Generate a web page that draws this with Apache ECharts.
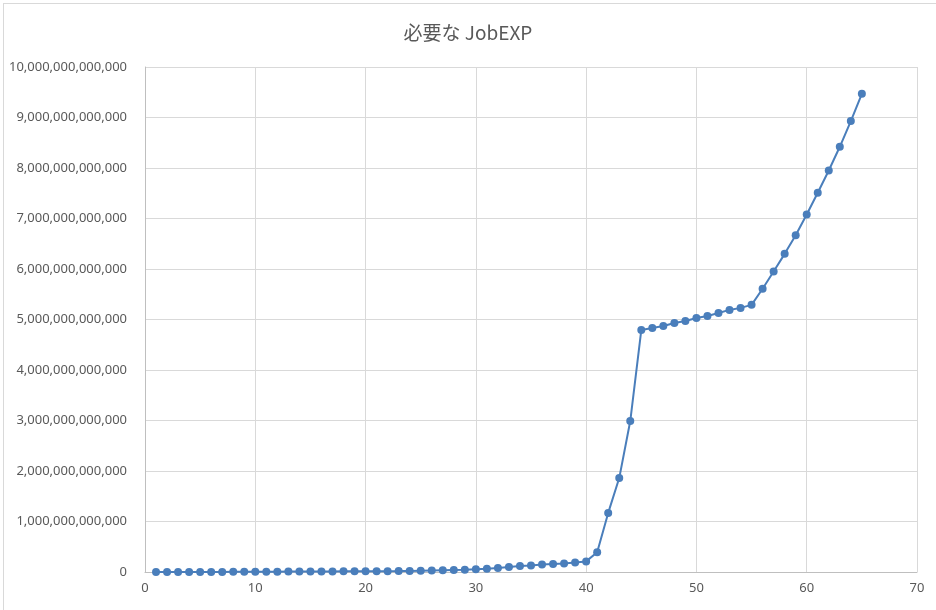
<!DOCTYPE html>
<html><head><meta charset="utf-8">
<script src="https://cdn.jsdelivr.net/npm/echarts@6/dist/echarts.min.js"></script>
<style>
html,body{margin:0;padding:0;background:#fff;}
#frame{position:absolute;left:3px;top:3px;width:940px;height:620px;border:1px solid #d9d9d9;}
#c{position:absolute;left:0;top:0;width:936px;height:610px;}
</style></head>
<body>
<div id="frame"></div>
<div id="c"></div>
<script>
const titleText = '必要な JobEXP';
const levels = [1,2,3,4,5,6,7,8,9,10,11,12,13,14,15,16,17,18,19,20,21,22,23,24,25,26,27,28,29,30,31,32,33,34,35,36,37,38,39,40,41,42,43,44,45,46,47,48,49,50,51,52,53,54,55,56,57,58,59,60,61,62,63,64,65];
const jobExp = [
  100000000,200000000,400000000,700000000,1100000000,1600000000,2200000000,3000000000,4000000000,5000000000,
  6000000000,7000000000,8000000000,9000000000,10000000000,11000000000,12000000000,13000000000,14000000000,15000000000,
  16000000000,17000000000,18000000000,20000000000,25000000000,30000000000,35000000000,40000000000,45000000000,55000000000,
  65000000000,80000000000,100000000000,120000000000,130000000000,150000000000,160000000000,170000000000,190000000000,210000000000,
  390000000000,1170000000000,1860000000000,2990000000000,4790000000000,4830000000000,4870000000000,4930000000000,4970000000000,5030000000000,
  5070000000000,5130000000000,5190000000000,5230000000000,5290000000000,5610000000000,5950000000000,6300000000000,6670000000000,7080000000000,
  7510000000000,7950000000000,8420000000000,8930000000000,9470000000000
];
const xTicks = {min:0, max:70, interval:10};
const yTicks = {min:0, max:10000000000000, interval:1000000000000};

const chart = echarts.init(document.getElementById('c'));
chart.setOption({
  animation:false,
  backgroundColor:'transparent',
  title:{text:titleText,left:'center',top:18,textStyle:{fontFamily:'Noto Sans CJK JP',fontSize:19,fontWeight:'normal',color:'#595959'}},
  grid:{left:145,right:19,top:67,bottom:38,containLabel:false},
  xAxis:{type:'value',min:xTicks.min,max:xTicks.max,interval:xTicks.interval,
    axisLine:{show:true,onZero:false,lineStyle:{color:'#bfbfbf'}},axisTick:{show:false},
    axisLabel:{color:'#595959',fontSize:13,fontFamily:'Noto Sans',margin:10},
    splitLine:{show:true,lineStyle:{color:'#d9d9d9'}}},
  yAxis:{type:'value',min:yTicks.min,max:yTicks.max,interval:yTicks.interval,
    axisLine:{show:true,lineStyle:{color:'#bfbfbf'}},axisTick:{show:false},
    axisLabel:{color:'#595959',fontSize:13,fontFamily:'Noto Sans',margin:18,
      formatter:v=>v.toLocaleString('en-US')},
    splitLine:{show:true,lineStyle:{color:'#d9d9d9'}}},
  series:[{type:'line',data:levels.map((x,i)=>[x,jobExp[i]]),
    symbol:'circle',symbolSize:8,
    lineStyle:{color:'#4a7ebb',width:2},
    itemStyle:{color:'#4a7ebb'}}]
});
</script>
</body></html>
